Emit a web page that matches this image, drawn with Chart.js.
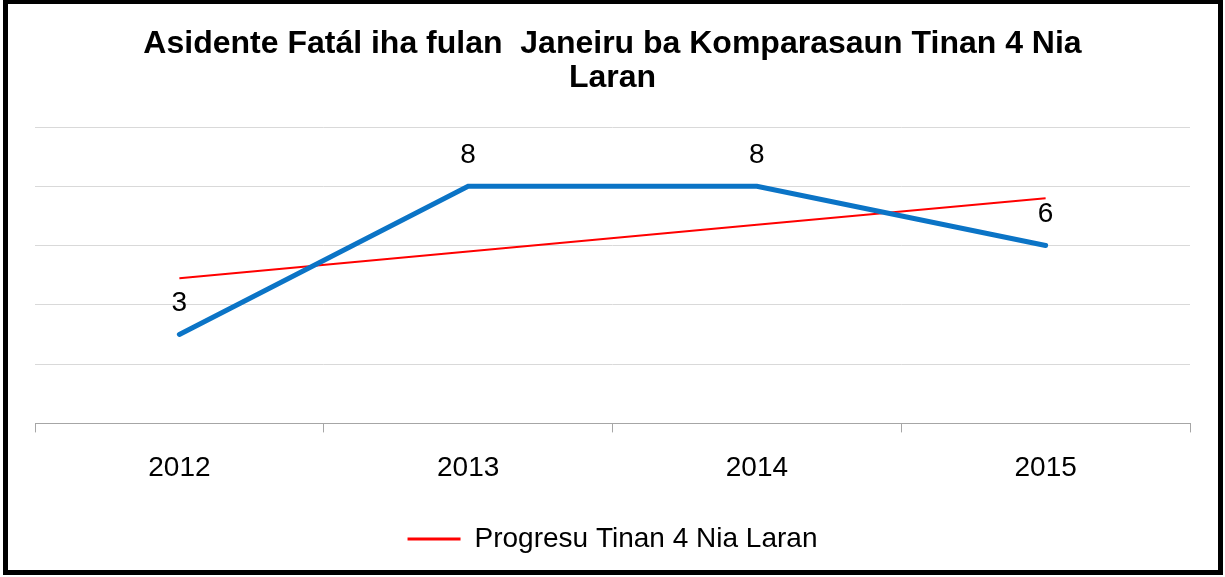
<!DOCTYPE html>
<html>
<head>
<meta charset="utf-8">
<script src="https://cdn.jsdelivr.net/npm/chart.js@4.4.0/dist/chart.umd.min.js"></script>
<style>
    html, body { margin: 0; padding: 0; background: #fff; }
    #wrap { position: relative; width: 1225px; height: 577px; }
    #frame {
        position: absolute; left: 3px; top: -1px; width: 1220px; height: 576px;
        box-sizing: border-box; border: 5px solid #000; pointer-events: none;
    }
</style>
</head>
<body>
<div id="wrap">
    <canvas id="chart" width="1225" height="577"></canvas>
    <div id="frame"></div>
</div>
<script>
// data
const years = ['2012', '2013', '2014', '2015'];
const fatalAccidents = [3, 8, 8, 6];
const trendValues = [4.9, 5.8, 6.7, 7.6];
const titleLines = ['Asidente Fatál iha fulan  Janeiru ba Komparasaun Tinan 4 Nia', 'Laran'];
const trendLabel = 'Progresu Tinan 4 Nia Laran';

const FONT = "'Liberation Sans', Arial, sans-serif";

// value labels above the blue line
const pointLabels = {
    id: 'pointLabels',
    afterDatasetsDraw(chart) {
        const ctx = chart.ctx;
        const meta = chart.getDatasetMeta(0);
        ctx.save();
        ctx.font = '28px ' + FONT;
        ctx.fillStyle = '#000';
        ctx.textAlign = 'center';
        ctx.textBaseline = 'middle';
        meta.data.forEach((pt, i) => {
            ctx.fillText(String(fatalAccidents[i]), pt.x, pt.y - 31);
        });
        ctx.restore();
    }
};

const ctx = document.getElementById('chart').getContext('2d');
new Chart(ctx, {
    type: 'line',
    data: {
        labels: years,
        datasets: [
            {
                label: 'Asidente Fatál',
                data: fatalAccidents,
                borderColor: '#0b74c6',
                backgroundColor: '#0b74c6',
                borderWidth: 5,
                borderCapStyle: 'round',
                pointRadius: 0,
                tension: 0
            },
            {
                label: trendLabel,
                data: trendValues,
                borderColor: '#ff0000',
                backgroundColor: '#ff0000',
                borderWidth: 2,
                pointRadius: 0,
                tension: 0
            }
        ]
    },
    options: {
        responsive: false,
        animation: false,
        layout: { padding: { left: 35, right: 35, top: 0, bottom: 14 } },
        scales: {
            x: {
                offset: true,
                grid: {
                    offset: true,
                    drawOnChartArea: false,
                    tickLength: 9,
                    color: '#a6a6a6'
                },
                border: { color: '#a6a6a6', width: 1 },
                ticks: {
                    color: '#000',
                    padding: 19,
                    font: { family: FONT, size: 28 }
                },
                afterFit: scale => { scale.height += 11; }
            },
            y: {
                min: 0,
                max: 10,
                ticks: { stepSize: 2, display: false },
                grid: { color: '#d9d9d9', drawTicks: false },
                border: { display: false }
            }
        },
        plugins: {
            title: {
                display: true,
                text: titleLines,
                color: '#000',
                font: { family: FONT, size: 32, weight: 'bold', lineHeight: 34 / 32 },
                padding: { top: 27, bottom: 32 }
            },
            legend: {
                position: 'bottom',
                labels: {
                    color: '#000',
                    boxWidth: 53,
                    boxHeight: 3,
                    font: { family: FONT, size: 28 },
                    filter: item => item.datasetIndex === 1,
                    generateLabels: chart => {
                        const items = Chart.defaults.plugins.legend.labels.generateLabels(chart);
                        items.forEach(it => { it.lineWidth = 0; });
                        return items;
                    }
                }
            },
            tooltip: { enabled: false }
        }
    },
    plugins: [pointLabels]
});
</script>
</body>
</html>
